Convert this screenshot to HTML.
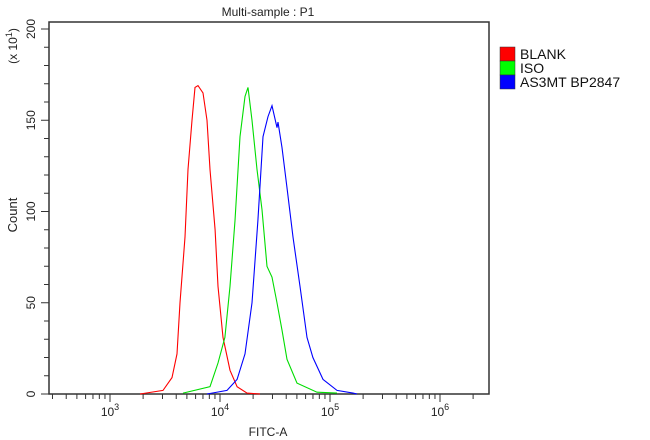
<!DOCTYPE html>
<html><head><meta charset="utf-8"><style>
html,body{margin:0;padding:0;background:#fff;}
svg{display:block;font-family:"Liberation Sans",sans-serif;}
</style></head><body>
<svg id="chart" width="650" height="440" xmlns="http://www.w3.org/2000/svg">
<rect x="0" y="0" width="650" height="440" fill="#fff"/>
<text x="268" y="16" font-size="12" text-anchor="middle" fill="#222">Multi-sample : P1</text>
<text transform="translate(17,215) rotate(-90)" font-size="13" text-anchor="middle" fill="#222">Count</text>
<text transform="translate(17,46) rotate(-90)" font-size="12" text-anchor="middle" fill="#222">(x 10<tspan dy="-5" font-size="9">1</tspan><tspan dy="5">)</tspan></text>
<text x="268" y="436" font-size="12" text-anchor="middle" fill="#222">FITC-A</text>
<g id="axes"></g>
<g id="series"></g>
<g>
<rect x="500" y="47" width="15" height="14" fill="#f00" stroke="#333" stroke-width="0.5"/>
<text x="520" y="59" font-size="14" fill="#111">BLANK</text>
<rect x="500" y="61" width="15" height="14" fill="#0f0" stroke="#333" stroke-width="0.5"/>
<text x="520" y="73" font-size="14" fill="#111">ISO</text>
<rect x="500" y="75" width="15" height="14" fill="#00f" stroke="#333" stroke-width="0.5"/>
<text x="520" y="87" font-size="14" fill="#111">AS3MT BP2847</text>
</g>
</svg>
<script>
const yTicks = [0, 50, 100, 150, 200];
const xDecades = [3, 4, 5, 6];
const blankLog = [3.273,3.482,3.564,3.609,3.636,3.682,3.709,3.745,3.773,3.800,3.845,3.882,3.909,3.955,3.982,4.027,4.091,4.155,4.245,4.364];
const blankCount = [0,2,9,22,50,86,123,150,168,169,165,150,123,90,59,31,13,4,0.5,0];
const isoLog = [3.664,3.909,3.982,4.045,4.091,4.136,4.182,4.227,4.255,4.291,4.336,4.382,4.427,4.473,4.518,4.564,4.609,4.700,4.882,5.064];
const isoCount = [0.5,4,17,31,59,95,141,163,168,150,123,101,70,64,50,35,19,6,1,0.5];
const as3mtLog = [3.882,4.064,4.155,4.227,4.291,4.345,4.391,4.436,4.473,4.518,4.527,4.564,4.609,4.664,4.727,4.791,4.845,4.936,5.064,5.209,5.245];
const as3mtCount = [0,2,8,22,50,95,141,152,158,146,149,135,113,86,59,31,20,8,2,0.5,0];

const NS = "http://www.w3.org/2000/svg";
const L = 49, R = 489, T = 22, B = 394;
function xs(lg){ return 110 + 110*(lg-3); }
function ys(c){ return 394 - c*1.825; }
function mk(tag, attrs, parent){ const e=document.createElementNS(NS,tag); for(const k in attrs) e.setAttribute(k,attrs[k]); parent.appendChild(e); return e; }

const axes = document.getElementById('axes');
const frame = mk('rect',{x:L,y:T,width:R-L,height:B-T,fill:'none',stroke:'#333','stroke-width':1.5},axes);


for(let v=0; v<=200; v+=10){
  const major = yTicks.includes(v);
  const t = mk('line',{x1:L-(major?8:5),x2:L,y1:ys(v),y2:ys(v),stroke:'#333','stroke-width':1},axes);
  
  
}
yTicks.forEach(v=>{
  const y = ys(v);
  const t = mk('text',{transform:`translate(35,${y}) rotate(-90)`,'font-size':12,'text-anchor':'middle',fill:'#222'},axes);
  t.textContent = String(v);
  
  
});
for(let d=2; d<=6; d++){
  for(let m=1; m<=9; m++){
    const lg = d + Math.log10(m);
    const x = xs(lg);
    if(x < L || x > R) continue;
    const t = mk('line',{x1:x,x2:x,y1:B,y2:B+(m===1?8:5),stroke:'#333','stroke-width':1},axes);
    
    
  }
}
xDecades.forEach(d=>{
  const t = mk('text',{x:xs(d),y:416,'font-size':12,'text-anchor':'middle',fill:'#222'},axes);
  t.innerHTML = `10<tspan dy="-6" font-size="9">${d}</tspan>`;
  
  
});

const series = document.getElementById('series');
function draw(lg, cnt, color, name){
  const pts = lg.map((v,i)=>xs(v).toFixed(1)+','+ys(cnt[i]).toFixed(1)).join(' ');
  const p = mk('polyline',{points:pts,fill:'none',stroke:color,'stroke-width':1.1},series);
  
  
}
draw(blankLog, blankCount, '#f00', 'blank-histogram');
draw(isoLog, isoCount, '#0d0', 'iso-histogram');
draw(as3mtLog, as3mtCount, '#00f', 'as3mt-histogram');
</script>
</body></html>
